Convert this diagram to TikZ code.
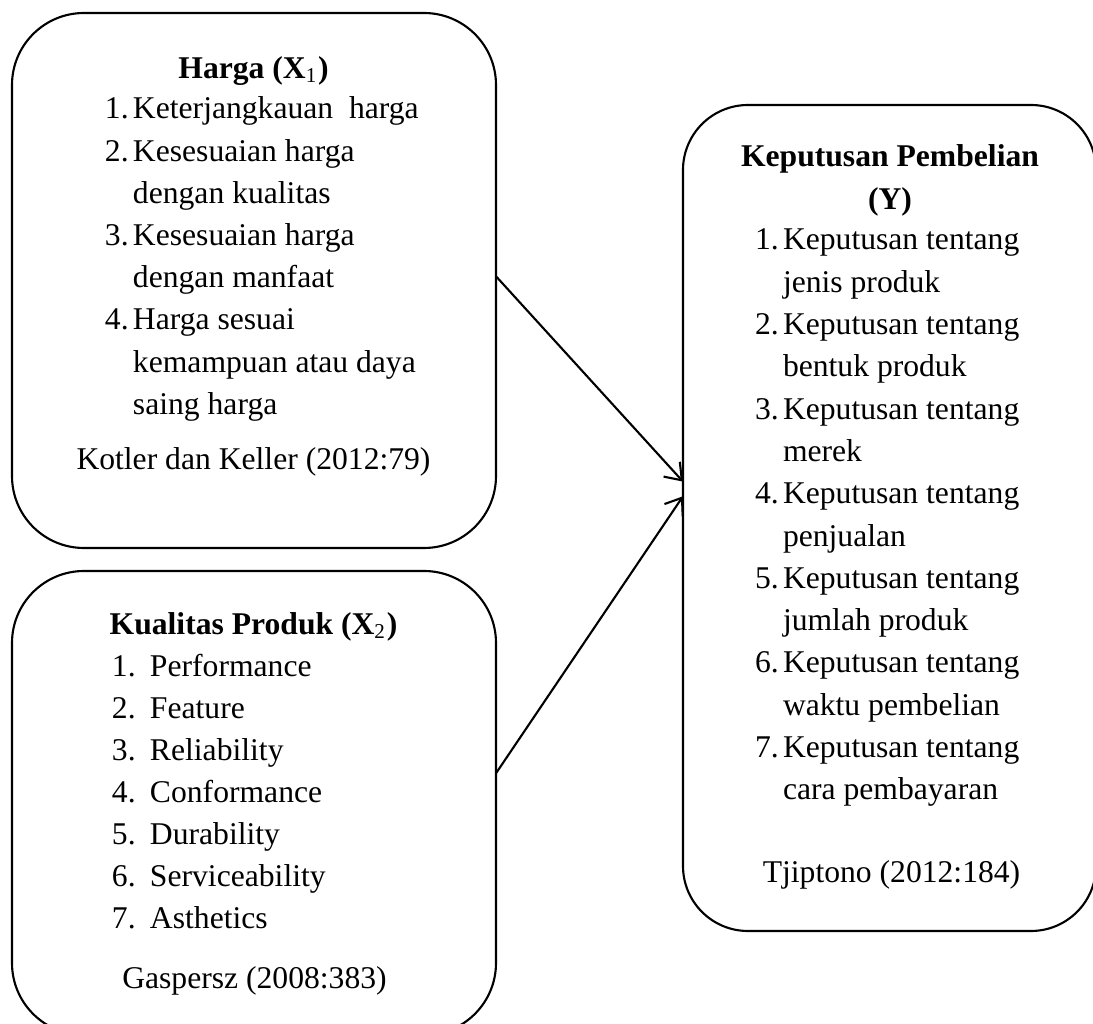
\documentclass[tikz,border=0pt]{standalone}
\usepackage{fontspec}
\setmainfont{Liberation Serif}
\usetikzlibrary{arrows.meta}

\begin{document}
\begin{tikzpicture}[every node/.style={font=\fontsize{9}{11}\selectfont, inner sep=0pt, outer sep=0pt},
  box/.style={draw, line width=0.6pt},
  txt/.style={anchor=base west},
  mid/.style={anchor=base},
  link/.style={line width=0.6pt, -{Straight Barb[length=1.5mm,width=2.2mm]}}]
\useasboundingbox (0,0) rectangle (10.93,10.24);

% kotak variabel
\node[box, rounded corners=0.72cm, minimum width=4.84cm, minimum height=5.35cm] (harga) at (2.54,7.435) {};
\node[box, rounded corners=0.72cm, minimum width=4.84cm, minimum height=4.64cm] (kualitas) at (2.54,2.21) {};
\node[box, rounded corners=0.65cm, minimum width=4.13cm, minimum height=8.26cm] (keputusan) at (8.895,5.06) {};

% Harga (X1)
\node[mid] (hT) at (2.535,9.45) {\textbf{Harga (X\textsubscript{\normalfont 1})}};
\node[txt] (hN1) at (1.05,9.05) {1.};
\node[txt] (h1) at (1.33,9.05) {Keterjangkauan~ harga};
\node[txt] (hN2) at (1.05,8.628) {2.};
\node[txt] (h2) at (1.33,8.628) {Kesesuaian harga};
\node[txt] (h2b) at (1.33,8.206) {dengan kualitas};
\node[txt] (hN3) at (1.05,7.784) {3.};
\node[txt] (h3) at (1.33,7.784) {Kesesuaian harga};
\node[txt] (h3b) at (1.33,7.362) {dengan manfaat};
\node[txt] (hN4) at (1.05,6.94) {4.};
\node[txt] (h4) at (1.33,6.94) {Harga sesuai};
\node[txt] (h4b) at (1.33,6.518) {kemampuan atau daya};
\node[txt] (h4c) at (1.33,6.096) {saing harga};
\node[mid] (hS) at (2.535,5.54) {Kotler dan Keller (2012:79)};

% Kualitas Produk (X2)
\node[mid] (kT) at (2.535,3.89) {\textbf{Kualitas Produk (X\textsubscript{\normalfont 2})}};
\node[txt] (kN1) at (1.12,3.47) {1.};
\node[txt] (k1) at (1.50,3.47) {Performance};
\node[txt] (kN2) at (1.12,3.051) {2.};
\node[txt] (k2) at (1.50,3.051) {Feature};
\node[txt] (kN3) at (1.12,2.632) {3.};
\node[txt] (k3) at (1.50,2.632) {Reliability};
\node[txt] (kN4) at (1.12,2.213) {4.};
\node[txt] (k4) at (1.50,2.213) {Conformance};
\node[txt] (kN5) at (1.12,1.794) {5.};
\node[txt] (k5) at (1.50,1.794) {Durability};
\node[txt] (kN6) at (1.12,1.375) {6.};
\node[txt] (k6) at (1.50,1.375) {Serviceability};
\node[txt] (kN7) at (1.12,0.956) {7.};
\node[txt] (k7) at (1.50,0.956) {Asthetics};
\node[mid] (kS) at (2.545,0.35) {Gaspersz (2008:383)};

% Keputusan Pembelian (Y)
\node[mid] (yT) at (8.90,8.57) {\textbf{Keputusan Pembelian}};
\node[mid] (yT2) at (8.90,8.14) {\textbf{(Y)}};
\node[txt] (yN1) at (7.55,7.74) {1.};
\node[txt] (y1) at (7.83,7.74) {Keputusan tentang};
\node[txt] (y1b) at (7.83,7.317) {jenis produk};
\node[txt] (yN2) at (7.55,6.894) {2.};
\node[txt] (y2) at (7.83,6.894) {Keputusan tentang};
\node[txt] (y2b) at (7.83,6.471) {bentuk produk};
\node[txt] (yN3) at (7.55,6.048) {3.};
\node[txt] (y3) at (7.83,6.048) {Keputusan tentang};
\node[txt] (y3b) at (7.83,5.625) {merek};
\node[txt] (yN4) at (7.55,5.202) {4.};
\node[txt] (y4) at (7.83,5.202) {Keputusan tentang};
\node[txt] (y4b) at (7.83,4.779) {penjualan};
\node[txt] (yN5) at (7.55,4.356) {5.};
\node[txt] (y5) at (7.83,4.356) {Keputusan tentang};
\node[txt] (y5b) at (7.83,3.933) {jumlah produk};
\node[txt] (yN6) at (7.55,3.51) {6.};
\node[txt] (y6) at (7.83,3.51) {Keputusan tentang};
\node[txt] (y6b) at (7.83,3.087) {waktu pembelian};
\node[txt] (yN7) at (7.55,2.664) {7.};
\node[txt] (y7) at (7.83,2.664) {Keputusan tentang};
\node[txt] (y7b) at (7.83,2.241) {cara pembayaran};
\node[mid] (yS) at (8.915,1.41) {Tjiptono (2012:184)};

% panah
\draw[link] (harga.1) -- (keputusan.170.6);
\draw[link] (kualitas.7.8) -- (keputusan.174.2);
\end{tikzpicture}
\end{document}
